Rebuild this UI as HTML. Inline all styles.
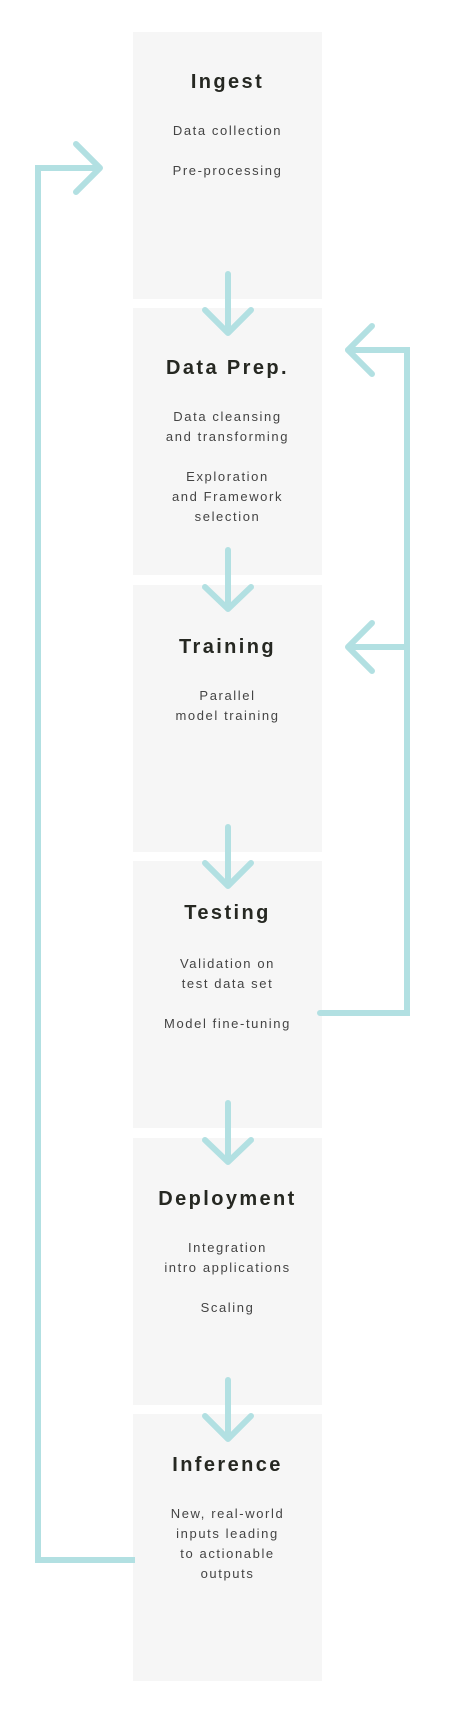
<!DOCTYPE html>
<html><head><meta charset="utf-8"><style>
html,body{margin:0;padding:0;background:#fff;}
body{width:458px;height:1718px;position:relative;overflow:hidden;font-family:"Liberation Sans",sans-serif;}
.box{position:absolute;left:133px;width:189px;height:267px;background:#f6f6f6;text-align:center;}
.t{position:absolute;left:0;width:100%;font-weight:bold;font-size:20px;letter-spacing:2.4px;color:#262822;line-height:24px;}
.s{position:absolute;left:0;width:100%;font-size:13px;letter-spacing:1.6px;color:#444;line-height:20px;}
svg{position:absolute;left:0;top:0;}
</style></head><body>
<div class="box" style="top:32px"><div class="t" style="top:38px">Ingest</div><div class="s" style="top:89px">Data collection<br><br>Pre-processing</div></div>
<div class="box" style="top:308px"><div class="t" style="top:48px">Data Prep.</div><div class="s" style="top:99px">Data cleansing<br>and transforming<br><br>Exploration<br>and Framework<br>selection</div></div>
<div class="box" style="top:585px"><div class="t" style="top:50px">Training</div><div class="s" style="top:101px">Parallel<br>model training</div></div>
<div class="box" style="top:861px"><div class="t" style="top:40px">Testing</div><div class="s" style="top:93px">Validation on<br>test data set<br><br>Model fine-tuning</div></div>
<div class="box" style="top:1138px"><div class="t" style="top:49px">Deployment</div><div class="s" style="top:100px">Integration<br>intro applications<br><br>Scaling</div></div>
<div class="box" style="top:1414px"><div class="t" style="top:39px">Inference</div><div class="s" style="top:90px">New, real-world<br>inputs leading<br>to actionable<br>outputs</div></div>
<svg width="458" height="1718" fill="none" stroke="#b2e0e2" stroke-width="6" stroke-linecap="round" stroke-linejoin="round">
<path d="M228 274V333M205 310L228 333L251 310"/>
<path d="M228 550V609M205 587L228 609L251 587"/>
<path d="M228 827V886M205 863L228 886L251 863"/>
<path d="M228 1103V1162M205 1140L228 1162L251 1140"/>
<path d="M228 1380V1439M205 1416L228 1439L251 1416"/>
<path d="M135 1560H38V168H100" stroke-linecap="butt" stroke-linejoin="miter"/>
<path d="M76 144L100 168L76 192"/>
<path d="M320 1013H407V350H348" stroke-linejoin="miter"/>
<path d="M372 326L348 350L372 374"/>
<path d="M407 647H348M372 623L348 647L372 671"/>
</svg>
</body></html>
